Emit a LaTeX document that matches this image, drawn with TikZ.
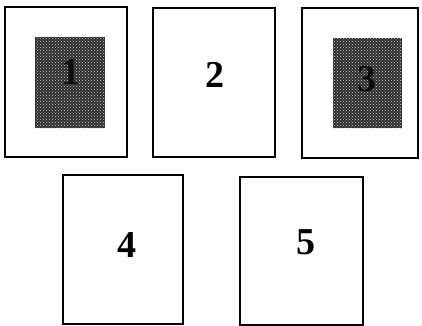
\documentclass[tikz,border=0pt]{standalone}
\usepackage{fontspec}
\setmainfont{Liberation Serif}
\usepackage{tikz}
\usetikzlibrary{patterns}

\begin{document}
\begin{tikzpicture}[
    x=1pt, y=-1pt,
    page/.style={rectangle, draw=black, line width=1.7pt, fill=white, inner sep=0pt},
    shade/.style={rectangle, fill=black!82, inner sep=0pt},
    speck/.style={pattern=crosshatch dots, pattern color=white!80!black},
    num/.style={inner sep=0pt, font=\fontsize{38}{40}\selectfont\bfseries}
  ]
    \useasboundingbox (0,0) rectangle (422,325);

    %% -- Top row
    \node[page, minimum width=122pt, minimum height=150pt] (p1) at (66,82) {};
    \node[page, minimum width=122pt, minimum height=149pt] (p2) at (214,82.5) {};
    \node[page, minimum width=116pt, minimum height=150pt] (p3) at (360,83) {};

    %% -- Shaded insets
    \node[shade, minimum width=70pt, minimum height=91pt] (s1) at (70,82.5) {};
    \fill[speck] (s1.south west) rectangle (s1.north east);
    \node[shade, minimum width=69pt, minimum height=90pt] (s3) at (367.5,83) {};
    \fill[speck] (s3.south west) rectangle (s3.north east);

    %% -- Bottom row
    \node[page, minimum width=120pt, minimum height=149pt] (p4) at (123,249.5) {};
    \node[page, minimum width=123pt, minimum height=148pt] (p5) at (301.5,251) {};

    %% -- Page numbers
    \node[num, text=black!95] (n1) at (71,72) {1};
    \node[num] (n2) at (215,75) {2};
    \node[num, text=black!95] (n3) at (367,79) {3};
    \node[num] (n4) at (127,244.5) {4};
    \node[num] (n5) at (306,242.5) {5};

  \end{tikzpicture}
\end{document}
